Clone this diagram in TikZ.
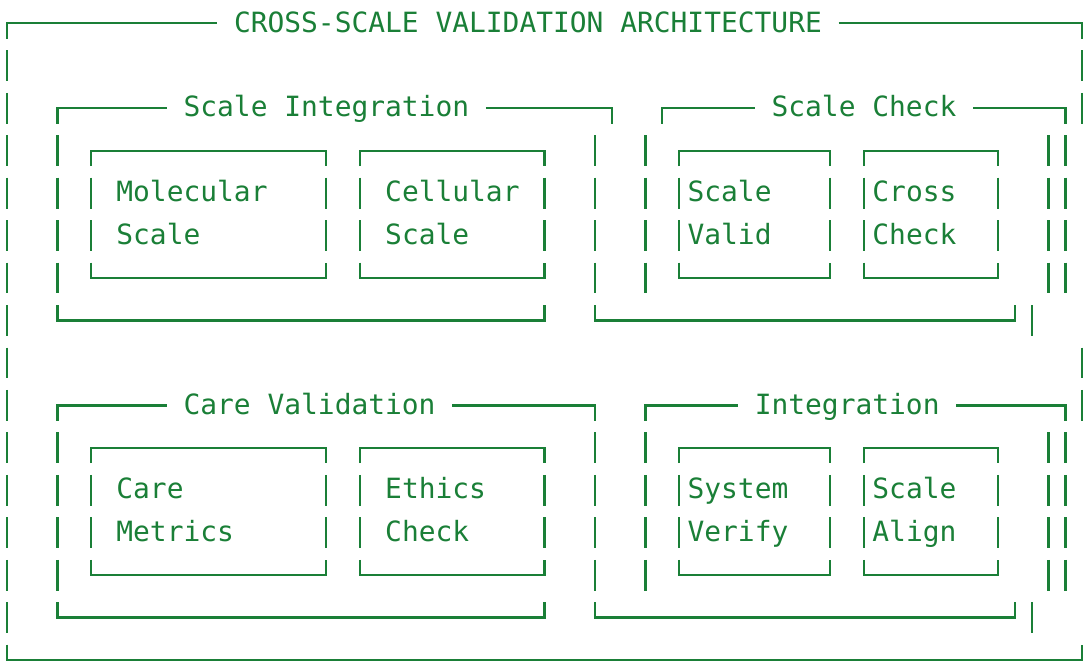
\documentclass[tikz,border=0pt]{standalone}
\usepackage{fontspec}
\newfontfamily\gridfont{DejaVu Sans Mono}
\definecolor{ink}{HTML}{1A7F37}
% grid: column centre and row middle, in pixels
\newcommand\gx[1]{7+16.8*(#1)}
\newcommand\gy[1]{23.3+42.45*(#1)}
\tikzset{
  ln/.style={draw=ink,line width=2.3pt},
  lbl/.style={text=ink,font=\gridfont\fontsize{27.9}{34}\selectfont,inner sep=0pt,anchor=base west}
}
% row, corner col, last dash col
\newcommand\topleft[3]{\draw[ln] ({\gx{#2}},{\gy{#1}+15.4}) -- ({\gx{#2}},{\gy{#1}}) -- ({\gx{#3}+8.4},{\gy{#1}});}
% row, first dash col, corner col
\newcommand\topright[3]{\draw[ln] ({\gx{#2}-8.4},{\gy{#1}}) -- ({\gx{#3}},{\gy{#1}}) -- ({\gx{#3}},{\gy{#1}+15.4});}
% row, left col, right col
\newcommand\boxtop[3]{\draw[ln] ({\gx{#2}},{\gy{#1}+15.4}) -- ({\gx{#2}},{\gy{#1}}) -- ({\gx{#3}},{\gy{#1}}) -- ({\gx{#3}},{\gy{#1}+15.4});}
\newcommand\boxbot[3]{\draw[ln] ({\gx{#2}},{\gy{#1}-15.4}) -- ({\gx{#2}},{\gy{#1}}) -- ({\gx{#3}},{\gy{#1}}) -- ({\gx{#3}},{\gy{#1}-15.4});}
% col, first row, last row
\newcommand\vbars[3]{\foreach \rr in {#2,...,#3}{\draw[ln] ({\gx{#1}},{\gy{\rr}-15.4}) -- ({\gx{#1}},{\gy{\rr}+15.4});}}
% name, col, row, text
\newcommand\txt[4]{\node[lbl] (#1) at ({\gx{#2}-8.4},{\gy{#3}+8.7}) {#4};}
\begin{document}
\begin{tikzpicture}[x=1pt,y=-1pt]
\useasboundingbox (0,0) rectangle (1089,662);
% ---- outer frame
\topleft{0}{0}{12}
\txt{title}{14}{0}{CROSS-SCALE VALIDATION ARCHITECTURE}
\topright{0}{50}{64}
\vbars{0}{1}{14}
\vbars{64}{1}{2}
\vbars{64}{8}{9}
\boxbot{15}{0}{64}
% ---- Scale Integration
\topleft{2}{3}{9}
\txt{si}{11}{2}{Scale Integration}
\topright{2}{29}{36}
\vbars{3}{3}{6}
\vbars{35}{3}{6}
\boxbot{7}{3}{32}
\boxtop{3}{5}{19}\vbars{5}{4}{5}\vbars{19}{4}{5}\boxbot{6}{5}{19}
\txt{mola}{7}{4}{Molecular}\txt{molb}{7}{5}{Scale}
\boxtop{3}{21}{32}\vbars{21}{4}{5}\vbars{32}{4}{5}\boxbot{6}{21}{32}
\txt{cela}{23}{4}{Cellular}\txt{celb}{23}{5}{Scale}
% ---- Scale Check
\topleft{2}{39}{44}
\txt{sc}{46}{2}{Scale Check}
\topright{2}{58}{63}
\vbars{38}{3}{6}
\vbars{62}{3}{6}
\vbars{63}{3}{6}
\boxbot{7}{35}{60}
\vbars{61}{7}{7}
\boxtop{3}{40}{49}\vbars{40}{4}{5}\vbars{49}{4}{5}\boxbot{6}{40}{49}
\txt{sva}{41}{4}{Scale}\txt{svb}{41}{5}{Valid}
\boxtop{3}{51}{59}\vbars{51}{4}{5}\vbars{59}{4}{5}\boxbot{6}{51}{59}
\txt{cca}{52}{4}{Cross}\txt{ccb}{52}{5}{Check}
% ---- Care Validation
\topleft{9}{3}{9}
\txt{cv}{11}{9}{Care Validation}
\topright{9}{27}{35}
\vbars{3}{10}{13}
\vbars{35}{10}{13}
\boxbot{14}{3}{32}
\boxtop{10}{5}{19}\vbars{5}{11}{12}\vbars{19}{11}{12}\boxbot{13}{5}{19}
\txt{cma}{7}{11}{Care}\txt{cmb}{7}{12}{Metrics}
\boxtop{10}{21}{32}\vbars{21}{11}{12}\vbars{32}{11}{12}\boxbot{13}{21}{32}
\txt{eca}{23}{11}{Ethics}\txt{ecb}{23}{12}{Check}
% ---- Integration
\topleft{9}{38}{43}
\txt{ig}{45}{9}{Integration}
\topright{9}{57}{63}
\vbars{38}{10}{13}
\vbars{62}{10}{13}
\vbars{63}{10}{13}
\boxbot{14}{35}{60}
\vbars{61}{14}{14}
\boxtop{10}{40}{49}\vbars{40}{11}{12}\vbars{49}{11}{12}\boxbot{13}{40}{49}
\txt{sya}{41}{11}{System}\txt{syb}{41}{12}{Verify}
\boxtop{10}{51}{59}\vbars{51}{11}{12}\vbars{59}{11}{12}\boxbot{13}{51}{59}
\txt{saa}{52}{11}{Scale}\txt{sab}{52}{12}{Align}
\end{tikzpicture}
\end{document}
